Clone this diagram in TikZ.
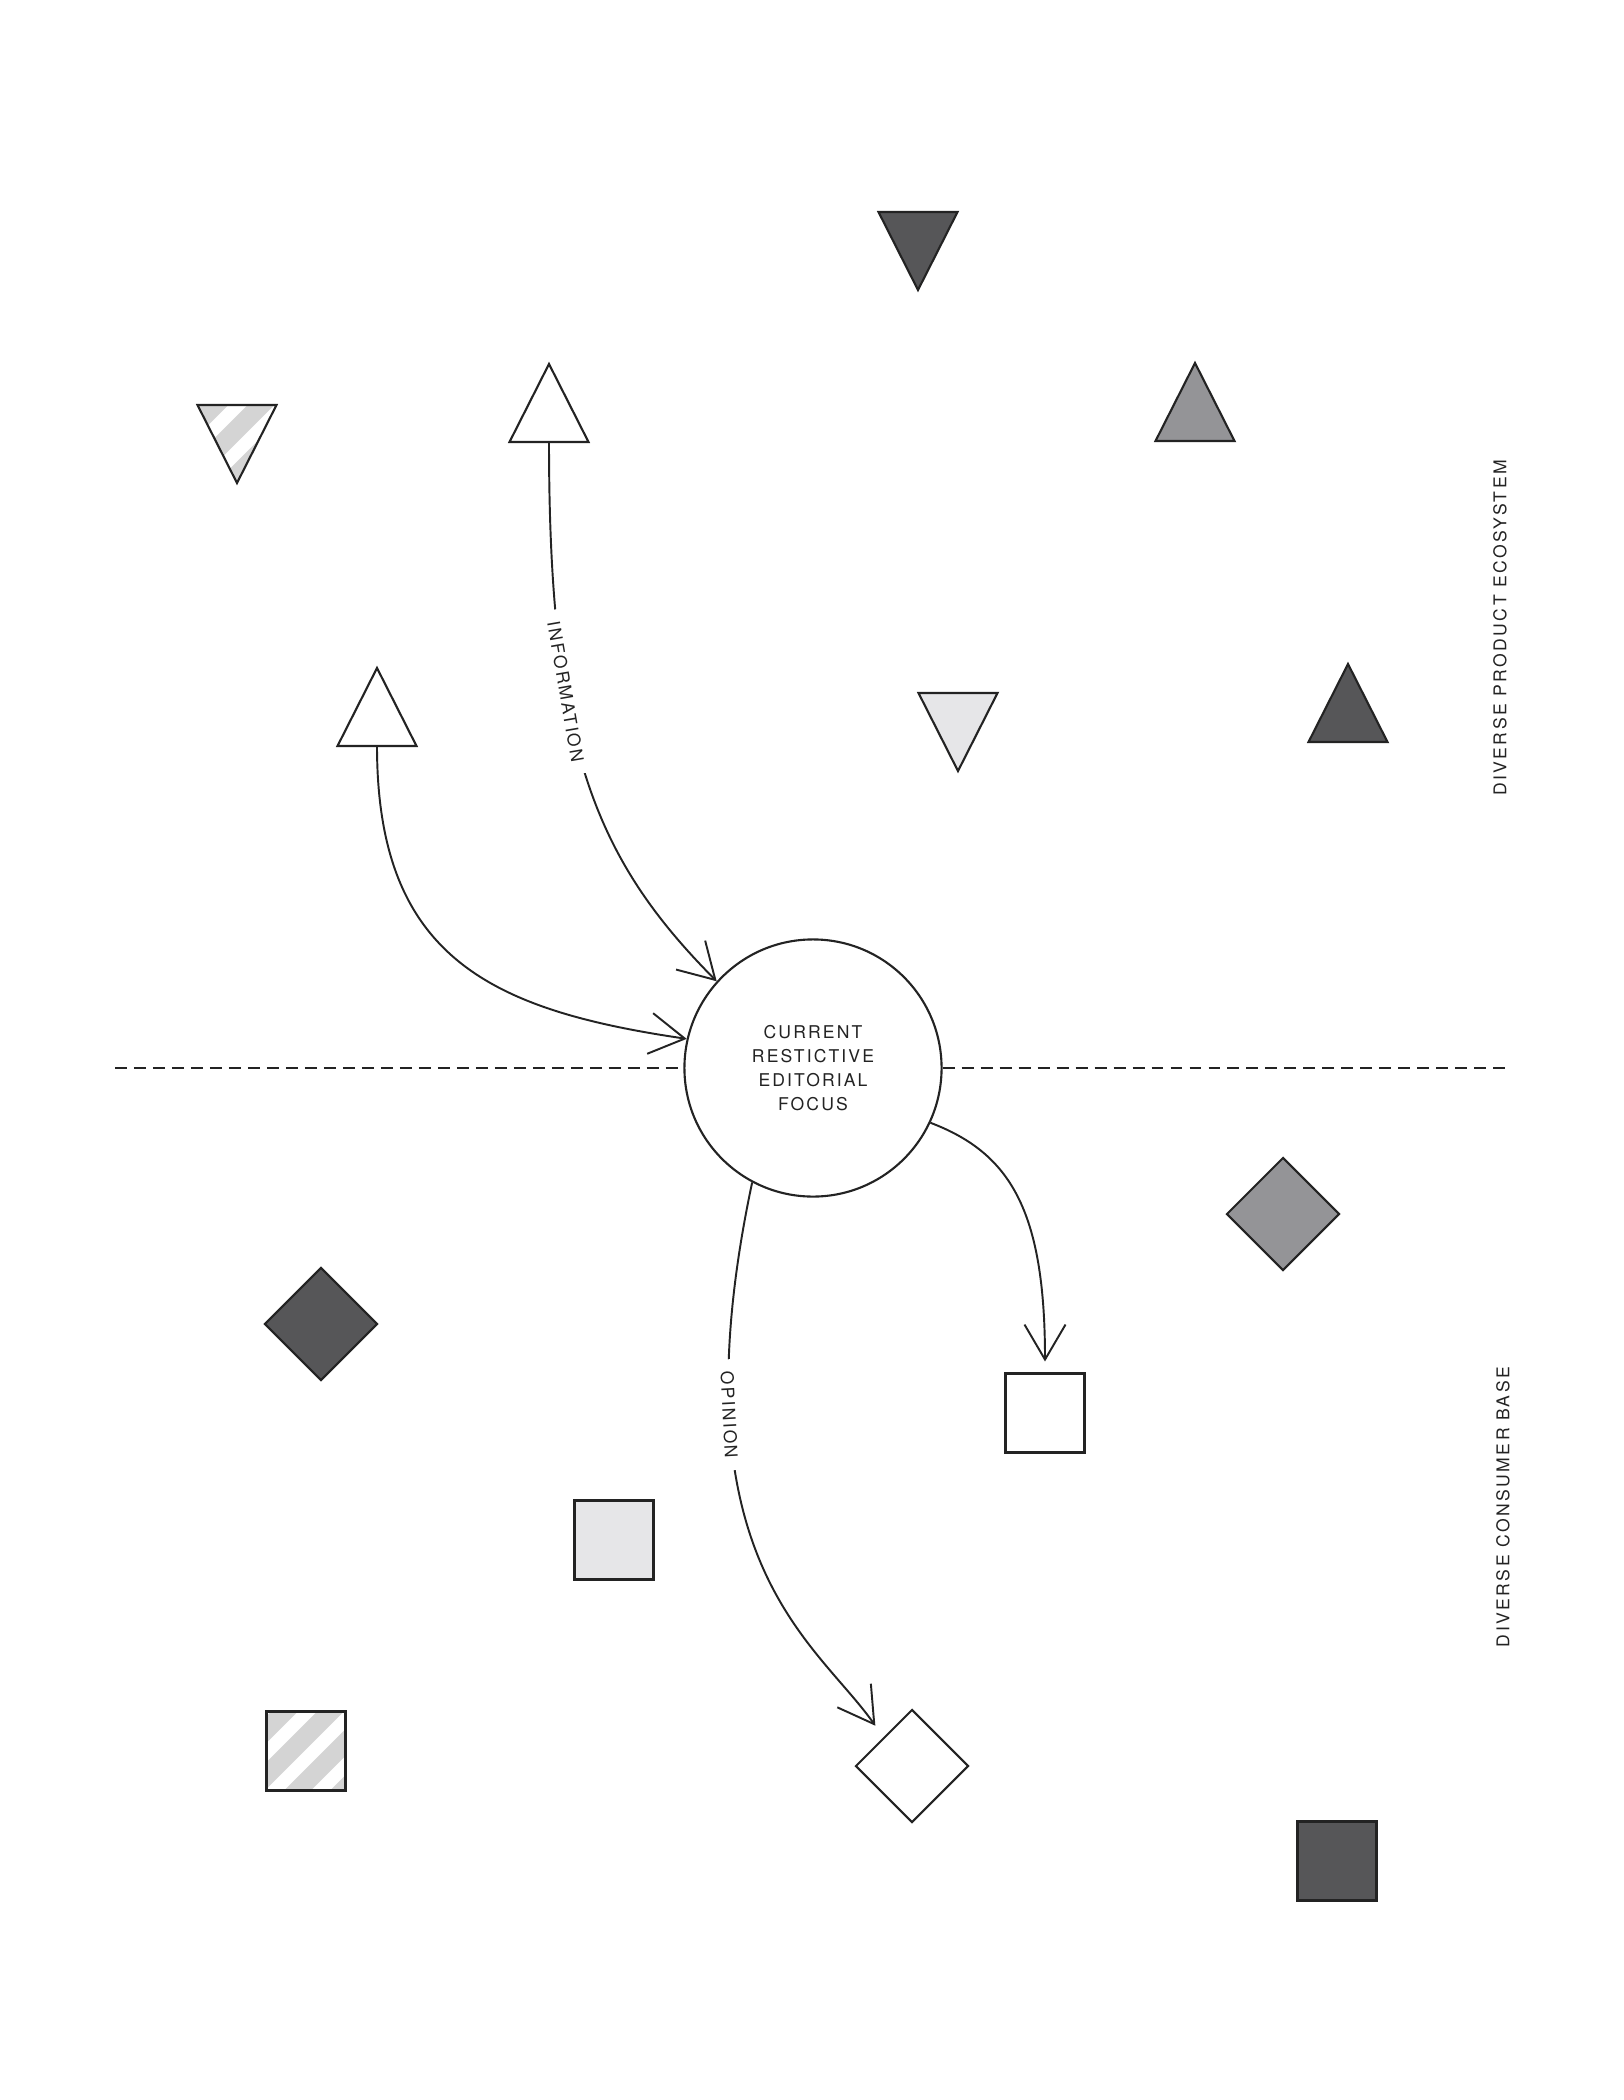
\documentclass[tikz,border=0pt]{standalone}
\usepackage{fontspec}
\setmainfont{TeX Gyre Heros}
\newfontfamily\trackfont[LetterSpace=12]{TeX Gyre Heros}
\newfontfamily\widefont[LetterSpace=14]{TeX Gyre Heros}
\usetikzlibrary{shapes.geometric,arrows.meta}
\definecolor{inkline}{HTML}{232323}
\definecolor{darkfill}{HTML}{565658}
\definecolor{midfill}{HTML}{949497}
\definecolor{lightfill}{HTML}{E6E6E8}
\definecolor{hatchfill}{HTML}{D4D4D4}

\begin{document}
\begin{tikzpicture}[x=0.01cm,y=-0.01cm,
  item/.style={draw=inkline,line width=0.6pt,inner sep=0pt,outer sep=0pt},
  tri/.style={item,isosceles triangle,isosceles triangle stretches,minimum width=0.79cm,minimum height=0.78cm},
  triup/.style={tri,shape border rotate=90,anchor=apex},
  tridown/.style={tri,shape border rotate=-90,anchor=apex},
  box/.style={item,rectangle,minimum size=0.79cm},
  dia/.style={item,diamond,minimum width=1.12cm,minimum height=1.12cm},
  hatch/.style={path picture={
    \foreach \s in {-5,...,5}
      \draw[hatchfill,line width=0.19cm] ([shift={(\s*0.46cm-0.15cm-1cm,-1cm)}]path picture bounding box.center) -- ++(2cm,2cm);
  }},
  txt/.style={text=inkline,font=\trackfont\fontsize{5}{6.83}\selectfont},
  tag/.style={txt,sloped,fill=white,inner xsep=0.12cm,inner ysep=0.04cm},
  sidelabel/.style={text=inkline,font=\widefont\fontsize{5}{6}\selectfont,rotate=90},
  flow/.style={draw=inkline,line width=0.55pt,-{Straight Barb[length=0.35cm,width=0.41cm]}},
  divider/.style={draw=inkline,line width=0.5pt,dash pattern=on 3.4pt off 2pt}]

  \useasboundingbox[fill=white] (0,0) rectangle (1623,2100);

  % product ecosystem
  \node[tridown,hatch] (hatchtri) at (237,483) {};
  \node[triup,fill=white] (infotri) at (549,364) {};
  \node[triup,fill=white] (lefttri) at (377,668) {};
  \node[tridown,fill=darkfill] (darktri) at (918,290) {};
  \node[triup,fill=midfill] (greytri) at (1195,363) {};
  \node[tridown,fill=lightfill] (lighttri) at (958,771) {};
  \node[triup,fill=darkfill] (darktri2) at (1348,664) {};

  % centre
  \node[circle,draw=inkline,line width=0.6pt,minimum size=2.57cm,inner sep=0pt,align=center,txt] (focus) at (813,1068) {CURRENT\\RESTICTIVE\\EDITORIAL\\FOCUS};

  \coordinate (dashL) at (115,1068);
  \coordinate (dashR) at (1512,1068);
  \draw[divider] (dashL) -- (focus.west);
  \draw[divider] (focus.east) -- (dashR);

  % consumer base
  \node[dia,fill=midfill] (greydia) at (1283,1214) {};
  \node[dia,fill=darkfill] (darkdia) at (321,1324) {};
  \node[box,fill=white] (whitesq) at (1045,1413) {};
  \node[box,fill=lightfill] (lightsq) at (614,1540) {};
  \node[box,hatch] (hatchsq) at (306,1751) {};
  \node[dia,fill=white] (whitedia) at (912,1766) {};
  \node[box,fill=darkfill] (darksq) at (1337,1861) {};

  \node[sidelabel] (ecosystem) at (1500,628) {DIVERSE PRODUCT ECOSYSTEM};
  \node[sidelabel] (consumers) at (1503,1507) {DIVERSE CONSUMER BASE};

  % arrows
  \draw[flow] (infotri.south) .. controls (549,743) and (593,857) .. (focus.138) node[pos=0.34,tag] {INFORMATION};
  \draw[flow] (lefttri.south) .. controls (377,957) and (490,1010) .. (focus.167);
  \draw[flow,shorten >=0.12cm] (focus.-25) .. controls (1010,1153) and (1045,1210) .. (whitesq.north);
  \draw[flow,shorten >=0.15cm] (focus.242) .. controls (672,1560) and (815,1640) .. (whitedia.north west) node[pos=0.25,tag] {OPINION};
\end{tikzpicture}
\end{document}
